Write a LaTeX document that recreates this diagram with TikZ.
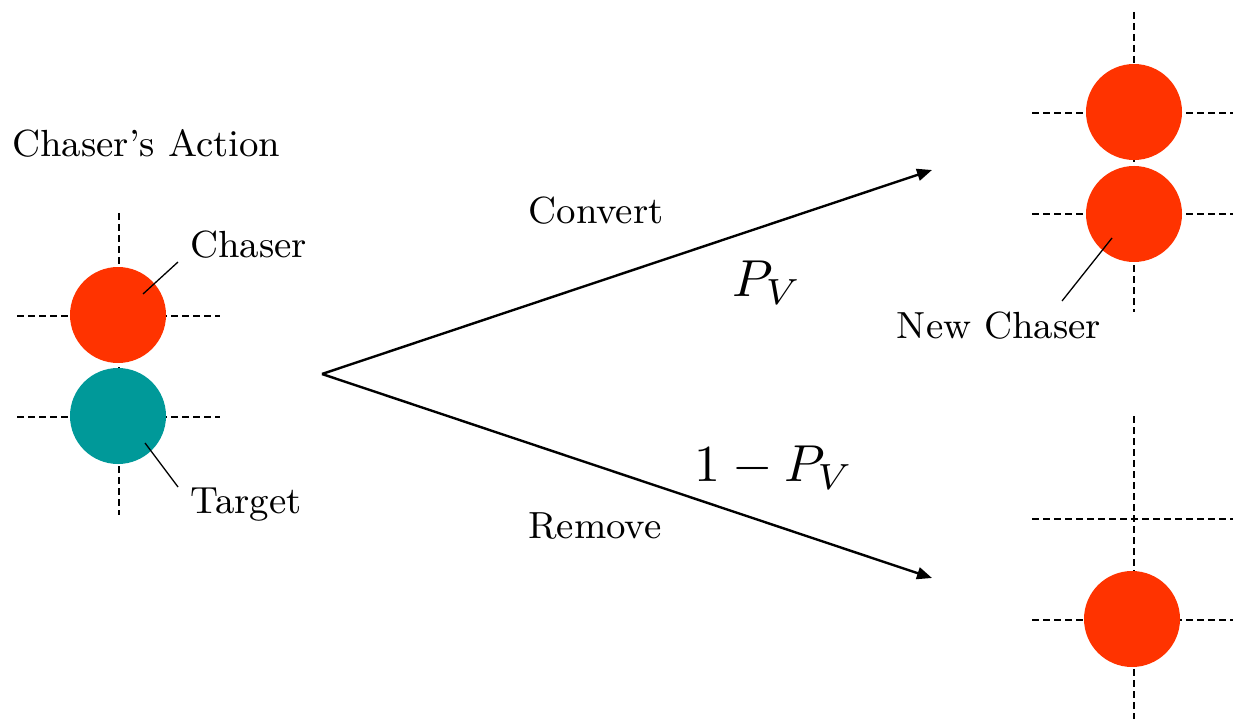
\documentclass[tikz,border=0pt]{standalone}
\usetikzlibrary{arrows.meta}
\definecolor{chred}{HTML}{FF3300}
\definecolor{tgteal}{HTML}{009999}
\newcommand\bigtext[1]{\scalebox{4.2}{\fontsize{9}{10.8}\selectfont #1}}
\begin{document}
\begin{tikzpicture}[x=1pt,y=-1pt,
  grid/.style={dashed,dash pattern=on 7pt off 4pt,line width=2.3pt},
  agent/.style={circle,minimum size=96pt,inner sep=0pt},
  lbl/.style={inner sep=0pt},
  mlbl/.style={inner sep=0pt},
  leader/.style={line width=1.3pt},
  move/.style={line width=2.4pt,-{Triangle[length=15pt,width=12pt]}}]
\useasboundingbox (0,0) rectangle (1233,719);
% grids
\draw[grid] (17,316) -- (220,316);
\draw[grid] (17,417) -- (220,417);
\draw[grid] (119,213) -- (119,515);
\draw[grid] (1032,113) -- (1233,113);
\draw[grid] (1032,214) -- (1233,214);
\draw[grid] (1134,12) -- (1134,312);
\draw[grid] (1032,519) -- (1233,519);
\draw[grid] (1032,620) -- (1233,620);
\draw[grid] (1134,416) -- (1134,719);
% agents
\node[agent,fill=chred] (chaser) at (118,315) {};
\node[agent,fill=tgteal] (target) at (118,416) {};
\node[agent,fill=chred] (top1) at (1134,112) {};
\node[agent,fill=chred] (newchaser) at (1134,214) {};
\node[agent,fill=chred] (remain) at (1132,619) {};
% labels
\node[lbl,anchor=west] (title) at (12,143) {\bigtext{Chaser's Action}};
\node[lbl,anchor=west] (chlbl) at (190,245) {\bigtext{Chaser}};
\node[lbl,anchor=west] (tglbl) at (190,505) {\bigtext{Target}};
\node[lbl] (convert) at (596,211) {\bigtext{Convert}};
\node[lbl] (remove) at (595,526) {\bigtext{Remove}};
\node[mlbl] (pv) at (767,283) {\scalebox{5.2}{$P_V$}};
\node[mlbl] (qv) at (774,468) {\scalebox{5.2}{$1-P_V$}};
\node[lbl] (nclbl) at (999,326) {\bigtext{New Chaser}};
% leaders
\coordinate (chl) at (178,262);
\coordinate (chp) at (143,294);
\coordinate (tgl) at (178,487);
\coordinate (tgp) at (145,443);
\coordinate (ncl) at (1062,301);
\coordinate (ncp) at (1112,238);
\draw[leader] (chl) -- (chp);
\draw[leader] (tgl) -- (tgp);
\draw[leader] (ncl) -- (ncp);
% arrows
\coordinate (fork) at (322,374);
\coordinate (up) at (932,170);
\coordinate (down) at (932,578);
\draw[move] (fork) -- (up);
\draw[move] (fork) -- (down);
\end{tikzpicture}
\end{document}
